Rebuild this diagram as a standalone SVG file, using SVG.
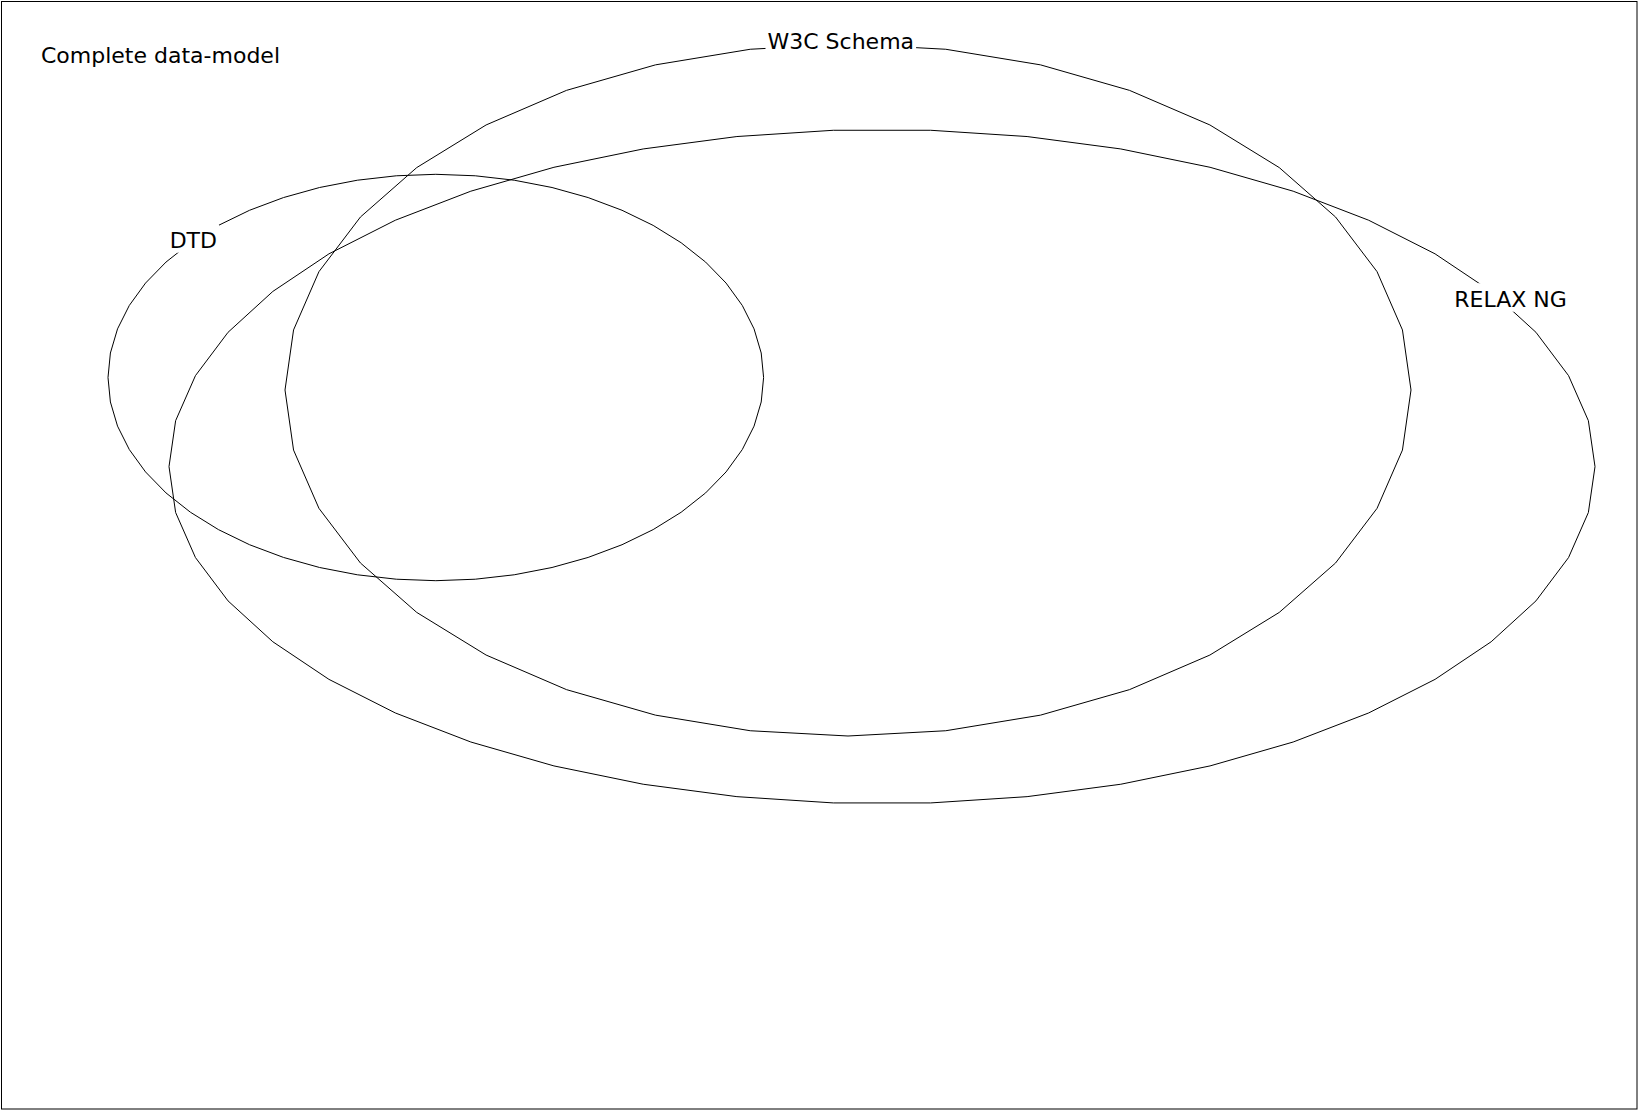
<svg xmlns="http://www.w3.org/2000/svg" width="1638" height="1110" viewBox="0 0 1638 1110">
<style>
.shape{fill:none;stroke:#000;stroke-width:1}
.lbl{font-family:"DejaVu Sans","Liberation Sans",sans-serif;font-size:22px;fill:#000;text-anchor:middle}
.title{font-family:"DejaVu Sans","Liberation Sans",sans-serif;font-size:22px;fill:#000}
.bg{fill:#fff;stroke:none}
</style>
<rect x="1.5" y="1.5" width="1635.5" height="1107.5" fill="#fff" stroke="#000" stroke-width="1"/>
<g id="complete-data-model">
<text class="title" x="41" y="63">Complete data-model</text>
</g>
<g id="relax-ng">
<polygon class="shape" vector-effect="non-scaling-stroke" transform="translate(882 466.6) scale(713 337.1)" points="1,0 .9907,.1362 .9629,.2698 .9172,.3984 .8544,.5196 .7757,.6311 .6826,.7308 .5767,.8170 .4601,.8879 .3349,.9423 .2035,.9791 .0682,.9977 -.0682,.9977 -.2035,.9791 -.3349,.9423 -.4601,.8879 -.5767,.8170 -.6826,.7308 -.7757,.6311 -.8544,.5196 -.9172,.3984 -.9629,.2698 -.9907,.1362 -1,0 -.9907,-.1362 -.9629,-.2698 -.9172,-.3984 -.8544,-.5196 -.7757,-.6311 -.6826,-.7308 -.5767,-.8170 -.4601,-.8879 -.3349,-.9423 -.2035,-.9791 -.0682,-.9977 .0682,-.9977 .2035,-.9791 .3349,-.9423 .4601,-.8879 .5767,-.8170 .6826,-.7308 .7757,-.6311 .8544,-.5196 .9172,-.3984 .9629,-.2698 .9907,-.1362"/>
</g>
<g id="w3c-schema">
<polygon class="shape" vector-effect="non-scaling-stroke" transform="translate(848 390) scale(563 346)" points="1,0 .9848,.1736 .9397,.3420 .8660,.5 .7660,.6428 .6428,.7660 .5,.8660 .3420,.9397 .1736,.9848 0,1 -.1736,.9848 -.3420,.9397 -.5,.8660 -.6428,.7660 -.7660,.6428 -.8660,.5 -.9397,.3420 -.9848,.1736 -1,0 -.9848,-.1736 -.9397,-.3420 -.8660,-.5 -.7660,-.6428 -.6428,-.7660 -.5,-.8660 -.3420,-.9397 -.1736,-.9848 0,-1 .1736,-.9848 .3420,-.9397 .5,-.8660 .6428,-.7660 .7660,-.6428 .8660,-.5 .9397,-.3420 .9848,-.1736"/>
</g>
<g id="dtd">
<polygon class="shape" vector-effect="non-scaling-stroke" transform="translate(435.8 377.5) scale(327.8 203.2)" points="1,0 .9927,.1205 .9709,.2393 .9350,.3546 .8855,.4647 .8230,.5681 .7485,.6631 .6631,.7485 .5681,.8230 .4647,.8855 .3546,.9350 .2393,.9709 .1205,.9927 0,1 -.1205,.9927 -.2393,.9709 -.3546,.9350 -.4647,.8855 -.5681,.8230 -.6631,.7485 -.7485,.6631 -.8230,.5681 -.8855,.4647 -.9350,.3546 -.9709,.2393 -.9927,.1205 -1,0 -.9927,-.1205 -.9709,-.2393 -.9350,-.3546 -.8855,-.4647 -.8230,-.5681 -.7485,-.6631 -.6631,-.7485 -.5681,-.8230 -.4647,-.8855 -.3546,-.9350 -.2393,-.9709 -.1205,-.9927 0,-1 .1205,-.9927 .2393,-.9709 .3546,-.9350 .4647,-.8855 .5681,-.8230 .6631,-.7485 .7485,-.6631 .8230,-.5681 .8855,-.4647 .9350,-.3546 .9709,-.2393 .9927,-.1205"/>
</g>
<g id="labels">
<rect class="bg" x="765.5" y="25.5" width="150.6" height="28.5"/>
<text class="lbl" x="840.8" y="49">W3C Schema</text>
<rect class="bg" x="167.7" y="224.2" width="51.3" height="28.5"/>
<text class="lbl" x="193.3" y="247.7">DTD</text>
<rect class="bg" x="1452.5" y="283.2" width="116" height="28.5"/>
<text class="lbl" x="1510.5" y="306.7">RELAX NG</text>
</g>
</svg>
